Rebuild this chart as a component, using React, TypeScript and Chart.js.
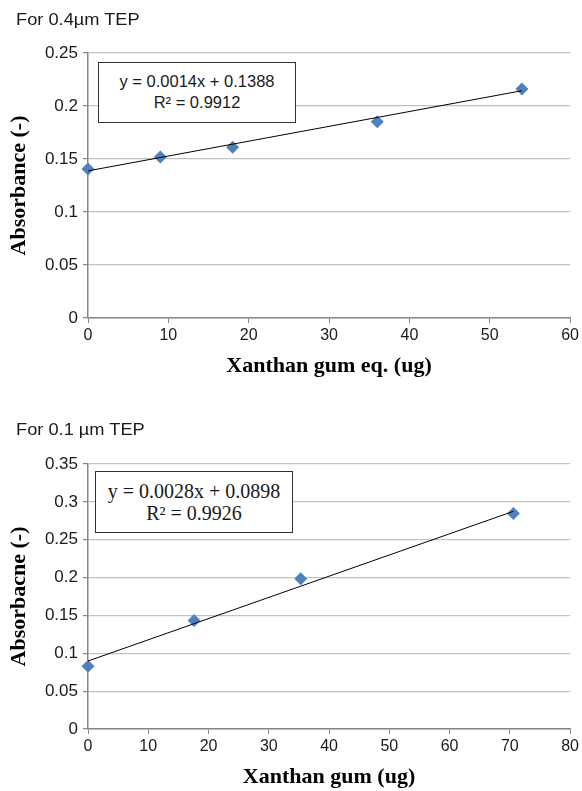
import React, { useEffect, useRef } from "react";
import { Chart, registerables } from "chart.js";

Chart.register(...registerables);

// ---- Data: chart 1 (0.4 µm TEP) ----
const xGum1 = [0, 9, 18, 36, 54];
const absorb1 = [0.1405, 0.152, 0.161, 0.1852, 0.216];
const trendX1 = [0, 54];
const trendY1 = [0.1388, 0.2144];
const eq1 = ["y = 0.0014x + 0.1388", "R² = 0.9912"];

// ---- Data: chart 2 (0.1 µm TEP) ----
const xGum2 = [0, 17.6, 35.3, 70.6];
const absorb2 = [0.0828, 0.1432, 0.1985, 0.2845];
const trendX2 = [0, 70.6];
const trendY2 = [0.0898, 0.2875];
const eq2 = ["y = 0.0028x + 0.0898", "R² = 0.9926"];

const SANS = "'Liberation Sans', Arial, sans-serif";
const SERIF = "'Liberation Serif', 'Times New Roman', serif";
const BLUE = "#4f81bd";
const AXIS = "#868686";
const GRID = "#c2c2c2";

type Cfg = {
  xs: number[];
  ys: number[];
  tx: number[];
  ty: number[];
  xMax: number;
  yMax: number;
  xTitle: string;
  yTitle: string;
  padTop: number;
  padBottom: number;
  xScaleH: number;
};

function fmt(v: number | string) {
  return String(Number(Number(v).toFixed(2)));
}

function ScatterPanel({ cfg, height }: { cfg: Cfg; height: number }) {
  const ref = useRef<HTMLCanvasElement | null>(null);
  useEffect(() => {
    if (!ref.current) return;
    const chart = new Chart(ref.current, {
      type: "scatter",
      data: {
        datasets: [
          {
            label: "trend",
            data: cfg.tx.map((x, i) => ({ x, y: cfg.ty[i] })),
            showLine: true,
            borderColor: "#000",
            borderWidth: 1,
            pointRadius: 0,
            pointHoverRadius: 0,
          },
          {
            label: "data",
            data: cfg.xs.map((x, i) => ({ x, y: cfg.ys[i] })),
            pointStyle: "rectRot",
            pointRadius: 6.5,
            backgroundColor: BLUE,
            borderColor: BLUE,
            borderWidth: 0,
            clip: false as any,
          },
        ],
      },
      options: {
        animation: false,
        responsive: false,
        maintainAspectRatio: false,
        events: [],
        layout: {
          padding: { left: 0, right: 9, top: cfg.padTop, bottom: cfg.padBottom },
        },
        plugins: { legend: { display: false }, tooltip: { enabled: false }, title: { display: false } },
        scales: {
          x: {
            type: "linear",
            min: 0,
            max: cfg.xMax,
            ticks: {
              stepSize: 10,
              color: "#1a1a1a",
              font: { family: SANS, size: 16 },
              padding: 3,
              maxRotation: 0,
            },
            grid: {
              drawOnChartArea: false,
              drawTicks: true,
              tickLength: 5,
              tickColor: AXIS,
              color: AXIS,
            },
            border: { color: AXIS, width: 1.5 },
            title: {
              display: true,
              text: cfg.xTitle,
              color: "#000",
              font: { family: SERIF, size: 22, weight: "bold" },
              padding: { top: 0, bottom: 0 },
            },
            afterFit: (s: any) => {
              s.height = cfg.xScaleH;
            },
          },
          y: {
            type: "linear",
            min: 0,
            max: cfg.yMax,
            ticks: {
              stepSize: 0.05,
              color: "#1a1a1a",
              font: { family: SANS, size: 17 },
              padding: 5,
              callback: (v: any) => fmt(v),
            },
            grid: {
              color: GRID,
              lineWidth: 1.2,
              drawTicks: true,
              tickLength: 5,
              tickColor: AXIS,
            },
            border: { color: AXIS, width: 1.5 },
            title: {
              display: true,
              text: cfg.yTitle,
              color: "#000",
              font: { family: SERIF, size: 22, weight: "bold" },
              padding: { top: 6, bottom: 0 },
            },
            afterFit: (s: any) => {
              s.width = 88;
            },
          },
        },
      },
    });
    return () => chart.destroy();
  }, [cfg]);
  return <canvas ref={ref} width={582} height={height} style={{ display: "block", width: 582, height }} />;
}

const cfg1: Cfg = {
  xs: xGum1,
  ys: absorb1,
  tx: trendX1,
  ty: trendY1,
  xMax: 60,
  yMax: 0.25,
  xTitle: "Xanthan gum eq. (ug)",
  yTitle: "Absorbance (-)",
  padTop: 53,
  padBottom: 15,
  xScaleH: 62,
};

const cfg2: Cfg = {
  xs: xGum2,
  ys: absorb2,
  tx: trendX2,
  ty: trendY2,
  xMax: 80,
  yMax: 0.35,
  xTitle: "Xanthan gum (ug)",
  yTitle: "Absorbacne (-)",
  padTop: 69,
  padBottom: 0,
  xScaleH: 62,
};

const titleStyle = (top: number): React.CSSProperties => ({
  position: "absolute",
  left: 16,
  top,
  font: `16px ${SANS}`,
  lineHeight: "18px",
  color: "#1a1a1a",
  whiteSpace: "nowrap",
  transform: "scaleX(1.14)",
  transformOrigin: "left center",
});

export default function App() {
  return (
    <div
      style={{
        position: "absolute",
        left: 0,
        top: 0,
        width: 582,
        height: 791,
        overflow: "hidden",
        background: "#fff",
      }}
    >
      <div style={{ position: "absolute", left: 0, top: 0 }}>
        <ScatterPanel cfg={cfg1} height={395} />
      </div>
      <div style={{ position: "absolute", left: 0, top: 395 }}>
        <ScatterPanel cfg={cfg2} height={396} />
      </div>
      <div style={titleStyle(11)}>For 0.4µm TEP</div>
      <div style={titleStyle(421)}>For 0.1 µm TEP</div>
      <div
        style={{
          position: "absolute",
          left: 98,
          top: 62,
          width: 198,
          height: 61,
          boxSizing: "border-box",
          border: "1px solid #333",
          background: "#fff",
          paddingTop: 8,
          textAlign: "center",
          font: `16.5px ${SANS}`,
          lineHeight: "21px",
          color: "#1a1a1a",
        }}
      >
        <div>{eq1[0]}</div>
        <div>{eq1[1]}</div>
      </div>
      <div
        style={{
          position: "absolute",
          left: 95,
          top: 471,
          width: 198,
          height: 62,
          boxSizing: "border-box",
          border: "1px solid #333",
          background: "#fff",
          paddingTop: 8,
          textAlign: "center",
          font: `20px ${SERIF}`,
          lineHeight: "22px",
          color: "#1a1a1a",
        }}
      >
        <div>{eq2[0]}</div>
        <div>{eq2[1]}</div>
      </div>
    </div>
  );
}
